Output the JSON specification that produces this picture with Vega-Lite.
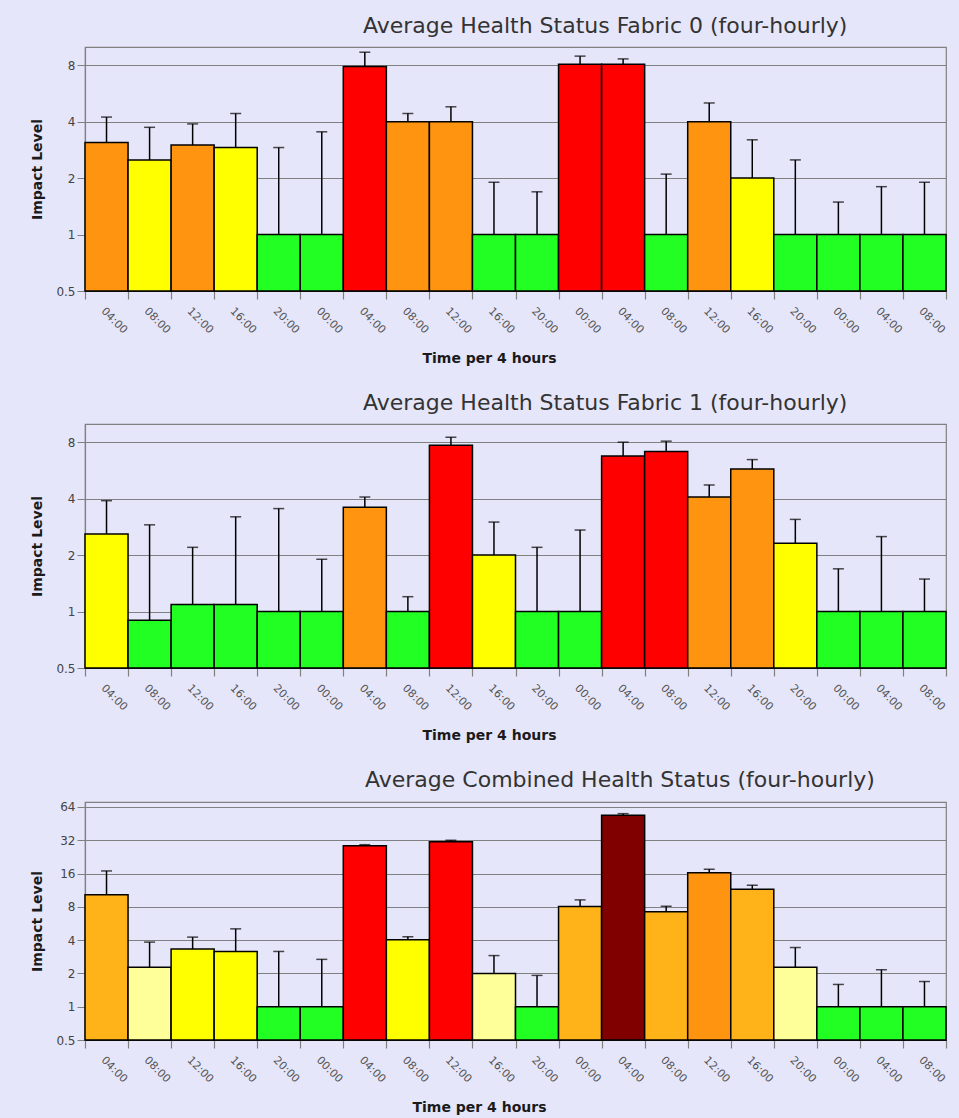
{
  "$schema": "https://vega.github.io/schema/vega-lite/v6.json",
  "background": "#E6E6FA",
  "padding": {"left": 30, "top": 14, "right": 13, "bottom": 12},
  "spacing": 25,
  "config": {
    "font": "DejaVu Sans",
    "view": {"stroke": "#808080", "strokeWidth": 1.2},
    "axisY": {"grid": true, "gridColor": "#808080", "gridWidth": 1.2, "gridOpacity": 1, "domainColor": "#808080", "domainWidth": 1.2, "tickColor": "#808080", "tickSize": 8, "labelFontSize": 12, "labelColor": "#444444", "labelPadding": 2, "titleFontSize": 14, "titleFontWeight": "bold", "titleColor": "#1a1a1a", "titlePadding": 11, "format": "~g"},
    "axisX": {"grid": false, "tickBand": "extent", "tickSize": 8, "tickColor": "#808080", "tickWidth": 1.2, "domainColor": "#222222", "domainWidth": 1.2, "labelAngle": 45, "labelFontSize": 11, "labelColor": "#555555", "labelPadding": 6, "labelExpr": "slice(datum.label, 2)", "titleFontSize": 14, "titleFontWeight": "bold", "titleColor": "#1a1a1a", "titlePadding": 16},
    "title": {"font": "DejaVu Sans", "fontSize": 22, "fontWeight": "normal", "color": "#333333", "anchor": "start", "frame": "group", "offset": 9}
  },
  "datasets": {
    "f0": [
      {"slot": "1 04:00", "level": "major", "value": 3.1, "hi": 4.23},
      {"slot": "1 08:00", "level": "minor", "value": 2.5, "hi": 3.73},
      {"slot": "1 12:00", "level": "major", "value": 3.0, "hi": 3.89},
      {"slot": "1 16:00", "level": "minor", "value": 2.91, "hi": 4.42},
      {"slot": "1 20:00", "level": "normal", "value": 1, "hi": 2.91},
      {"slot": "2 00:00", "level": "normal", "value": 1, "hi": 3.53},
      {"slot": "2 04:00", "level": "high", "value": 7.86, "hi": 9.38},
      {"slot": "2 08:00", "level": "major", "value": 4.0, "hi": 4.42},
      {"slot": "2 12:00", "level": "major", "value": 4.0, "hi": 4.8},
      {"slot": "2 16:00", "level": "normal", "value": 1, "hi": 1.9},
      {"slot": "2 20:00", "level": "normal", "value": 1, "hi": 1.69},
      {"slot": "3 00:00", "level": "high", "value": 8.1, "hi": 8.94},
      {"slot": "3 04:00", "level": "high", "value": 8.1, "hi": 8.64},
      {"slot": "3 08:00", "level": "normal", "value": 1, "hi": 2.1},
      {"slot": "3 12:00", "level": "major", "value": 4.0, "hi": 5.03},
      {"slot": "3 16:00", "level": "minor", "value": 2.0, "hi": 3.2},
      {"slot": "3 20:00", "level": "normal", "value": 1, "hi": 2.5},
      {"slot": "4 00:00", "level": "normal", "value": 1, "hi": 1.49},
      {"slot": "4 04:00", "level": "normal", "value": 1, "hi": 1.8},
      {"slot": "4 08:00", "level": "normal", "value": 1, "hi": 1.9}
    ],
    "f1": [
      {"slot": "1 04:00", "level": "minor", "value": 2.59, "hi": 3.9},
      {"slot": "1 08:00", "level": "normal", "value": 0.898, "hi": 2.9},
      {"slot": "1 12:00", "level": "normal", "value": 1.09, "hi": 2.2},
      {"slot": "1 16:00", "level": "normal", "value": 1.09, "hi": 3.2},
      {"slot": "1 20:00", "level": "normal", "value": 1, "hi": 3.54},
      {"slot": "2 00:00", "level": "normal", "value": 1, "hi": 1.9},
      {"slot": "2 04:00", "level": "major", "value": 3.6, "hi": 4.08},
      {"slot": "2 08:00", "level": "normal", "value": 1, "hi": 1.2},
      {"slot": "2 12:00", "level": "high", "value": 7.7, "hi": 8.5},
      {"slot": "2 16:00", "level": "minor", "value": 2.0, "hi": 3.0},
      {"slot": "2 20:00", "level": "normal", "value": 1, "hi": 2.2},
      {"slot": "3 00:00", "level": "normal", "value": 1, "hi": 2.72},
      {"slot": "3 04:00", "level": "high", "value": 6.76, "hi": 8.0},
      {"slot": "3 08:00", "level": "high", "value": 7.13, "hi": 8.1},
      {"slot": "3 12:00", "level": "major", "value": 4.08, "hi": 4.73},
      {"slot": "3 16:00", "level": "major", "value": 5.76, "hi": 6.46},
      {"slot": "3 20:00", "level": "minor", "value": 2.31, "hi": 3.1},
      {"slot": "4 00:00", "level": "normal", "value": 1, "hi": 1.69},
      {"slot": "4 04:00", "level": "normal", "value": 1, "hi": 2.51},
      {"slot": "4 08:00", "level": "normal", "value": 1, "hi": 1.49}
    ],
    "comb": [
      {"slot": "1 04:00", "level": "moderate", "value": 10.3, "hi": 16.9},
      {"slot": "1 08:00", "level": "low", "value": 2.27, "hi": 3.84},
      {"slot": "1 12:00", "level": "minor", "value": 3.32, "hi": 4.26},
      {"slot": "1 16:00", "level": "minor", "value": 3.16, "hi": 5.06},
      {"slot": "1 20:00", "level": "normal", "value": 1, "hi": 3.16},
      {"slot": "2 00:00", "level": "normal", "value": 1, "hi": 2.68},
      {"slot": "2 04:00", "level": "high", "value": 28.6, "hi": 29.2},
      {"slot": "2 08:00", "level": "minor", "value": 4.03, "hi": 4.29},
      {"slot": "2 12:00", "level": "high", "value": 31.1, "hi": 32},
      {"slot": "2 16:00", "level": "low", "value": 2.0, "hi": 2.9},
      {"slot": "2 20:00", "level": "normal", "value": 1, "hi": 1.92},
      {"slot": "3 00:00", "level": "moderate", "value": 8.06, "hi": 9.25},
      {"slot": "3 04:00", "level": "critical", "value": 53.8, "hi": 55.7},
      {"slot": "3 08:00", "level": "moderate", "value": 7.21, "hi": 8.1},
      {"slot": "3 12:00", "level": "major", "value": 16.3, "hi": 17.5},
      {"slot": "3 16:00", "level": "moderate", "value": 11.55, "hi": 12.55},
      {"slot": "3 20:00", "level": "low", "value": 2.27, "hi": 3.43},
      {"slot": "4 00:00", "level": "normal", "value": 1, "hi": 1.59},
      {"slot": "4 04:00", "level": "normal", "value": 1, "hi": 2.16},
      {"slot": "4 08:00", "level": "normal", "value": 1, "hi": 1.69}
    ]
  },
  "vconcat": [
    {
      "width": 861, "height": 244,
      "data": {"name": "f0"},
      "title": {"text": "Average Health Status Fabric 0 (four-hourly)", "dx": 278},
      "encoding": {
        "x": {"field": "slot", "type": "ordinal", "scale": {"paddingInner": 0, "paddingOuter": 0}, "axis": {"title": "Time per 4 hours", "titleX": 404}}
      },
      "layer": [
        {"mark": {"type": "bar", "stroke": "#000000", "strokeWidth": 1.5},
         "encoding": {
           "y": {"field": "value", "type": "quantitative", "scale": {"type": "log", "base": 2, "domain": [0.5, 10], "nice": false}, "axis": {"values": [0.5, 1, 2, 4, 8], "title": "Impact Level"}},
           "y2": {"datum": 0.5},
           "color": {"field": "level", "type": "nominal", "legend": null, "scale": {"domain": ["normal", "low", "minor", "moderate", "major", "high", "critical"], "range": ["#22FF22", "#FFFF99", "#FFFF00", "#FFB319", "#FF9410", "#FF0000", "#800000"]}}
         }},
        {"mark": {"type": "rule", "color": "#000000", "strokeWidth": 1.5},
         "encoding": {"y": {"field": "value", "type": "quantitative"}, "y2": {"field": "hi"}}},
        {"mark": {"type": "tick", "color": "#000000", "thickness": 1.5, "size": 11},
         "encoding": {"y": {"field": "hi", "type": "quantitative"}}}
      ]
    },
    {
      "width": 861, "height": 244,
      "data": {"name": "f1"},
      "title": {"text": "Average Health Status Fabric 1 (four-hourly)", "dx": 278},
      "encoding": {
        "x": {"field": "slot", "type": "ordinal", "scale": {"paddingInner": 0, "paddingOuter": 0}, "axis": {"title": "Time per 4 hours", "titleX": 404}}
      },
      "layer": [
        {"mark": {"type": "bar", "stroke": "#000000", "strokeWidth": 1.5},
         "encoding": {
           "y": {"field": "value", "type": "quantitative", "scale": {"type": "log", "base": 2, "domain": [0.5, 10], "nice": false}, "axis": {"values": [0.5, 1, 2, 4, 8], "title": "Impact Level"}},
           "y2": {"datum": 0.5},
           "color": {"field": "level", "type": "nominal", "legend": null, "scale": {"domain": ["normal", "low", "minor", "moderate", "major", "high", "critical"], "range": ["#22FF22", "#FFFF99", "#FFFF00", "#FFB319", "#FF9410", "#FF0000", "#800000"]}}
         }},
        {"mark": {"type": "rule", "color": "#000000", "strokeWidth": 1.5},
         "encoding": {"y": {"field": "value", "type": "quantitative"}, "y2": {"field": "hi"}}},
        {"mark": {"type": "tick", "color": "#000000", "thickness": 1.5, "size": 11},
         "encoding": {"y": {"field": "hi", "type": "quantitative"}}}
      ]
    },
    {
      "width": 861, "height": 238,
      "data": {"name": "comb"},
      "title": {"text": "Average Combined Health Status (four-hourly)", "dx": 280},
      "encoding": {
        "x": {"field": "slot", "type": "ordinal", "scale": {"paddingInner": 0, "paddingOuter": 0}, "axis": {"title": "Time per 4 hours", "titleX": 394}}
      },
      "layer": [
        {"mark": {"type": "bar", "stroke": "#000000", "strokeWidth": 1.5},
         "encoding": {
           "y": {"field": "value", "type": "quantitative", "scale": {"type": "log", "base": 2, "domain": [0.5, 71], "nice": false}, "axis": {"values": [0.5, 1, 2, 4, 8, 16, 32, 64], "title": "Impact Level"}},
           "y2": {"datum": 0.5},
           "color": {"field": "level", "type": "nominal", "legend": null, "scale": {"domain": ["normal", "low", "minor", "moderate", "major", "high", "critical"], "range": ["#22FF22", "#FFFF99", "#FFFF00", "#FFB319", "#FF9410", "#FF0000", "#800000"]}}
         }},
        {"mark": {"type": "rule", "color": "#000000", "strokeWidth": 1.5},
         "encoding": {"y": {"field": "value", "type": "quantitative"}, "y2": {"field": "hi"}}},
        {"mark": {"type": "tick", "color": "#000000", "thickness": 1.5, "size": 11},
         "encoding": {"y": {"field": "hi", "type": "quantitative"}}}
      ]
    }
  ]
}
